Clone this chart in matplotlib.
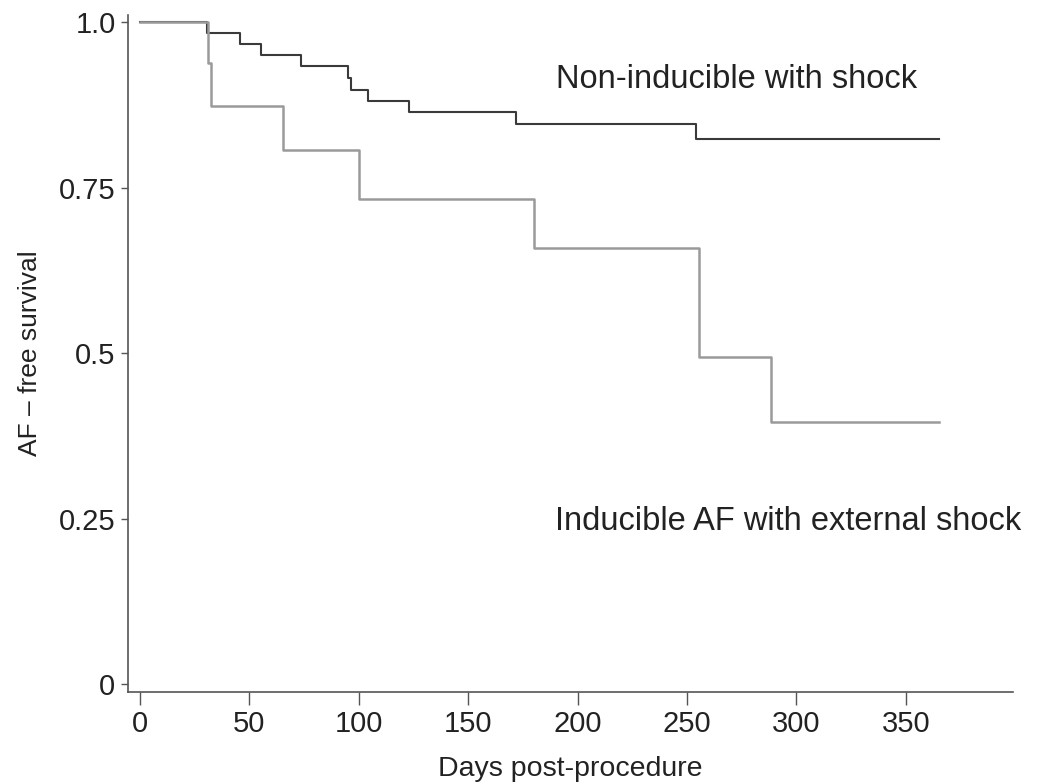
import matplotlib
matplotlib.use("Agg")
import matplotlib.pyplot as plt

plt.rcParams["font.family"] = ["Liberation Sans", "DejaVu Sans"]

# Kaplan-Meier steps (day of event, survival after event)
noninducible_days = [0, 30.5, 45.5, 55.5, 73.5, 95.0, 96.5, 104, 123, 172, 254, 365]
noninducible_surv = [1.0, 0.984, 0.967, 0.950, 0.933, 0.916, 0.898, 0.881, 0.864, 0.846, 0.823, 0.823]

inducible_days = [0, 31, 32.5, 65.5, 100, 180, 255.5, 288.5, 365]
inducible_surv = [1.0, 0.9375, 0.873, 0.807, 0.732, 0.659, 0.494, 0.396, 0.396]

xticks = [0, 50, 100, 150, 200, 250, 300, 350]
yticks = [0, 0.25, 0.5, 0.75, 1.0]
yticklabels = ["0", "0.25", "0.5", "0.75", "1.0"]

fig = plt.figure(figsize=(10.4, 7.84), dpi=100)
ax = fig.add_axes([128 / 1040, 92 / 784, (1013 - 128) / 1040, (692 - 15) / 784])

ax.step(noninducible_days, noninducible_surv, where="post", color="#3a3a3a", lw=1.5)
ax.step(inducible_days, inducible_surv, where="post", color="#9a9a9a", lw=1.8)

ax.set_xlim(-5.5, 399)
ax.set_ylim(-0.012, 1.0106)

ax.spines["top"].set_visible(False)
ax.spines["right"].set_visible(False)
for s in ["left", "bottom"]:
    ax.spines[s].set_color("#555555")
    ax.spines[s].set_linewidth(1.2)

ax.set_xticks(xticks)
ax.set_yticks(yticks)
ax.set_yticklabels(yticklabels)
ax.tick_params(axis="x", length=9, width=1, color="#555555", labelsize=21, pad=4, labelcolor="#222222")
ax.tick_params(axis="y", length=5, width=1, color="#555555", labelsize=21, pad=4, labelcolor="#222222")

ax.set_xlabel("Days post-procedure", fontsize=20.5, color="#222222", labelpad=13)
ax.set_ylabel("AF \u2013 free survival", fontsize=19, color="#222222", labelpad=12)

ax.text(190, 0.913, "Non-inducible with shock", fontsize=23.5, color="#222222", va="center")
ax.text(189.5, 0.245, "Inducible AF with external shock", fontsize=23.5, color="#222222", va="center")

fig.savefig("out.png", dpi=100)
